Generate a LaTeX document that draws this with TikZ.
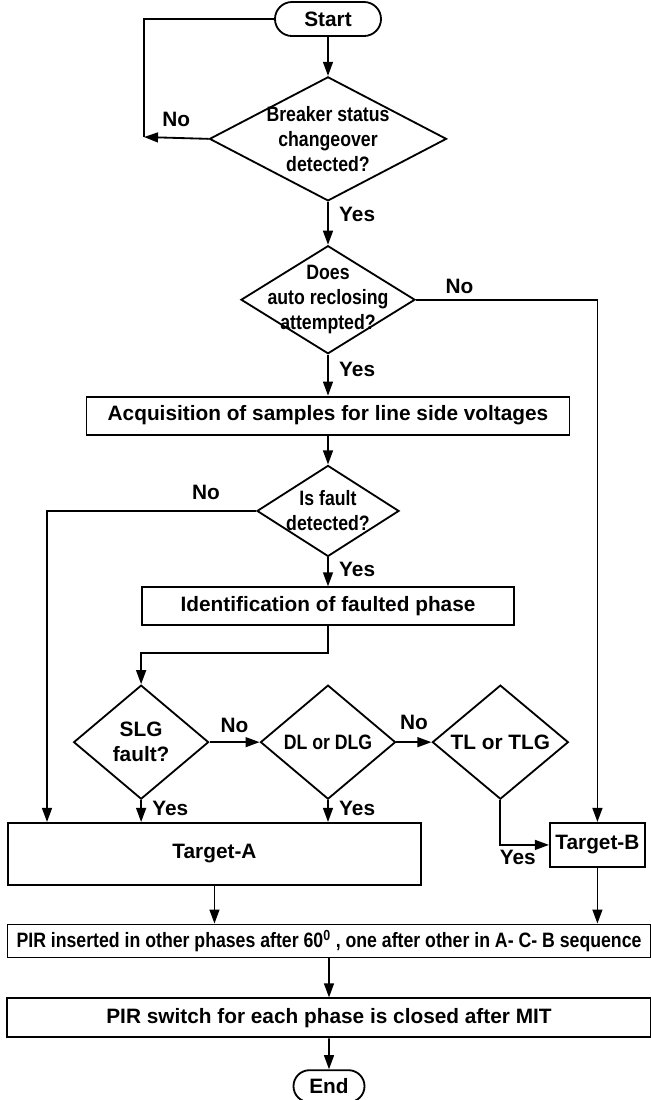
\documentclass[tikz,border=0pt]{standalone}
\usepackage{fontspec}
\setmainfont{Liberation Sans}
\newfontfamily\narrowfont{Liberation Sans}[FakeStretch=0.85]
\usetikzlibrary{arrows.meta,positioning,shapes.geometric,shapes.misc}

\begin{document}
\begin{tikzpicture}[->,>={Triangle[length=10pt,width=7pt]},x=0.025cm,y=-0.025cm,
                    line width=1.3pt,node distance=1cm,
                    every node/.style={font=\fontsize{14.8}{17.8}\selectfont\bfseries},
                    term/.style={rounded rectangle,draw,minimum width=2.65cm,minimum height=0.85cm,inner sep=0pt},
                    box/.style={rectangle,draw,minimum height=0.95cm,inner sep=0pt},
                    decision/.style={diamond,draw,align=center,inner sep=-1cm},
                    narrow/.style={font=\fontsize{14.8}{17.8}\selectfont\narrowfont\bfseries}]

      \useasboundingbox (0,0) rectangle (651,1100);

      \node[term] (start) at (328,19) {Start};
      \node[decision,narrow,minimum width=5.925cm,minimum height=3.1cm] (d1) [below=0.975cm of start] {Breaker status\\changeover\\detected?};
      \node[decision,narrow,minimum width=4.35cm,minimum height=2.7cm] (d2) [below=1.075cm of d1] {Does\\auto reclosing\\attempted?};
      \node[box,minimum width=12.075cm] (acq) [below=1.025cm of d2] {Acquisition of samples for line side voltages};
      \node[decision,narrow,minimum width=3.55cm,minimum height=2.275cm] (d3) [below=0.725cm of acq] {Is fault\\detected?};
      \node[box,minimum width=9.3cm] (ident) [below=0.725cm of d3] {Identification of faulted phase};

      \node[decision,narrow,minimum width=3.375cm,minimum height=2.85cm] (dl) [below=1.45cm of ident] {DL or DLG};
      \node[decision,minimum width=3.375cm,minimum height=2.85cm] (slg) [left=1.25cm of dl] {SLG\\fault?};
      \node[decision,minimum width=3.4cm,minimum height=2.85cm] (tl) [right=0.875cm of dl] {TL or TLG};

      \node[box,minimum width=10.325cm,minimum height=1.55cm,anchor=north west] (tA) at (7,822) {Target-A};
      \node[box,minimum width=2.375cm,minimum height=1.1cm,anchor=north west] (tB) at (549,822) {Target-B};

      \node[box,narrow,minimum width=16.075cm,minimum height=0.825cm] (pir1) at (329,941) {PIR inserted in other phases after 60\textsuperscript{0} , one after other in A- C- B sequence};
      \node[box,minimum width=16.1cm,minimum height=0.975cm] (pir2) [below=0.975cm of pir1] {PIR switch for each phase is closed after MIT};
      \node[term,minimum width=1.775cm,minimum height=0.8cm] (end) [below=0.775cm of pir2] {End};

      \coordinate (back) at (144,137);

      \draw (start) -- (d1);
      \draw (d1.west) -- node[above=4pt] {No} (back);
      \draw[-] (back) |- (start.west);
      \draw (d1) -- node[right=4pt,pos=0.3] {Yes} (d2);
      \draw (d2.east) -| node[above,pos=0.12] {No} (tB.north);
      \draw (d2) -- node[right=4pt,pos=0.35] {Yes} (acq);
      \draw (acq) -- (d3);
      \draw (d3.west) -| node[above=4pt,pos=0.12] {No} ([xshift=1cm]tA.north west);
      \draw (d3) -- node[right=4pt,pos=0.4] {Yes} (ident);
      \draw (ident.south) -- ++(0,27) -| (slg.north);
      \draw (slg) -- node[above=3pt] {No} (dl);
      \draw (dl) -- node[above=5pt] {No} (tl);
      \draw (slg.south) -- node[right=4pt,pos=0.4] {Yes} (slg.south |- tA.north);
      \draw (dl.south) -- node[right=4pt,pos=0.4] {Yes} (dl.south |- tA.north);
      \draw (tl.south) |- node[below,pos=0.68] {Yes} (tB.west);
      \draw (tA.south) -- (tA.south |- pir1.north);
      \draw (tB.south) -- (tB.south |- pir1.north);
      \draw (pir1) -- (pir2);
      \draw (pir2) -- (end);

    \end{tikzpicture}
\end{document}
